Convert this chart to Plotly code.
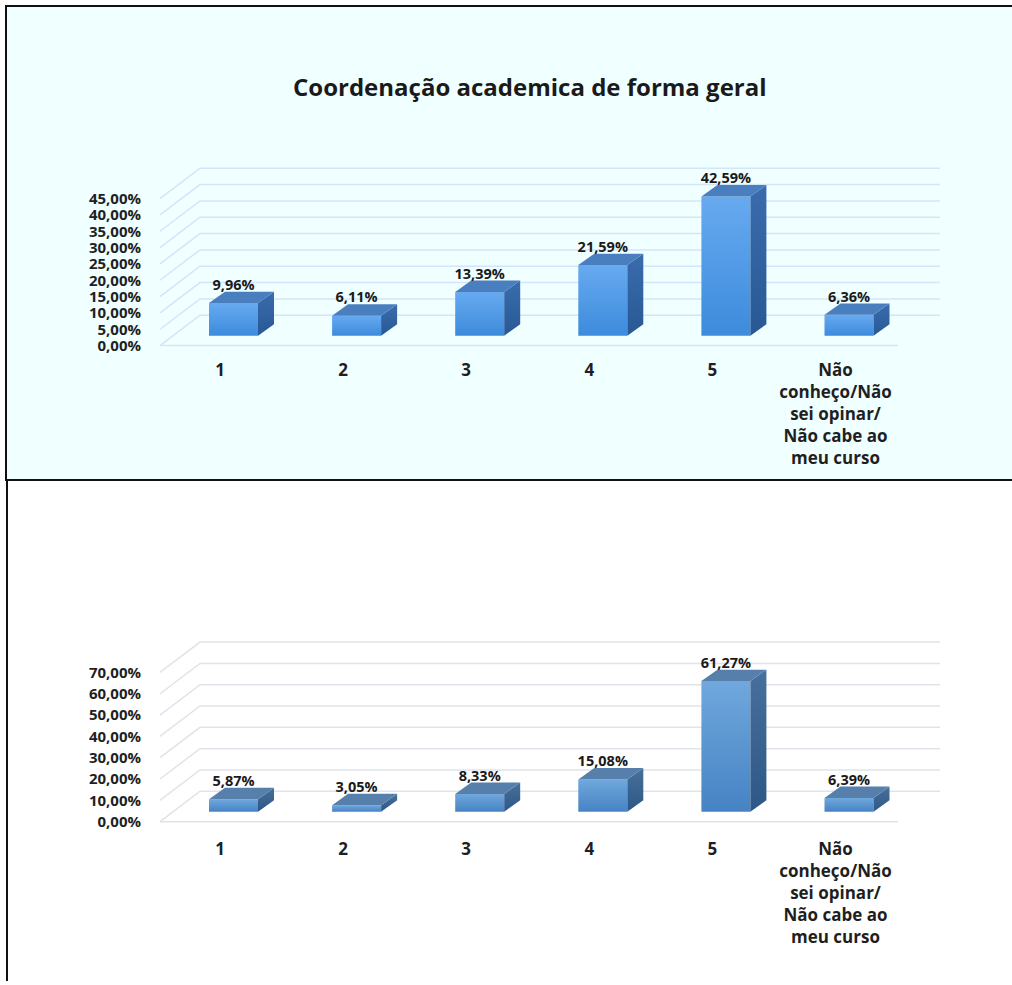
import plotly.graph_objects as go

W, H = 1012, 985

# ---- data -------------------------------------------------------------
categories = ["1", "2", "3", "4", "5",
              "Não<br>conheço/Não<br>sei opinar/<br>Não cabe ao<br>meu curso"]
geral_values = [9.96, 6.11, 13.39, 21.59, 42.59, 6.36]
segundo_values = [5.87, 3.05, 8.33, 15.08, 61.27, 6.39]
geral_ticks = [0, 5, 10, 15, 20, 25, 30, 35, 40, 45]
segundo_ticks = [0, 10, 20, 30, 40, 50, 60, 70]
title_text = "Coordenação academica de forma geral"


def pct_label(v):
    return f"{v:.2f}".replace(".", ",") + "%"


# ---- 3D geometry (pixel sizes) ----------------------------------------
CAT_PX = 123.1          # pixels between category centres
FIRST_CENTER = 233.5    # pixel x of the first column centre
X_DOMAIN_LEFT = 150
WALL_FRONT_X = 160      # front-left corner of the floor
WALL_DX, WALL_DY = 40, 30.5
WALL_RIGHT_X = 940
FLOOR_RIGHT_X = 898
BAR_W = 49
BAR_DX, BAR_DY = 16, 11.5
BAR_LIFT = 10
LABEL_GAP = 5.5
CAT_LABEL_SHIFT = -13.5

FONT = "Open Sans"


def xdata(px):
    return (px - FIRST_CENTER) / CAT_PX


def add_panel(fig, values, ticks, xa, ya, scale, front_cs, side_cs, top_col,
              grid_col):
    ux = 1.0 / CAT_PX
    uy = 1.0 / scale
    # back wall + side wall grid lines
    gx, gy = [], []
    for t in ticks:
        gx += [xdata(WALL_FRONT_X), xdata(WALL_FRONT_X + WALL_DX),
               xdata(WALL_RIGHT_X), None]
        gy += [t, t + WALL_DY * uy, t + WALL_DY * uy, None]
    gx += [xdata(WALL_FRONT_X), xdata(FLOOR_RIGHT_X), None]
    gy += [0, 0, None]
    fig.add_trace(go.Scatter(x=gx, y=gy, mode="lines", xaxis=xa, yaxis=ya,
                             line=dict(color=grid_col, width=1.5),
                             hoverinfo="skip", showlegend=False))
    lx, ly, lt = [], [], []
    for i, v in enumerate(values):
        base = BAR_LIFT * uy
        top = base + v
        xl, xr = i - BAR_W / 2 * ux, i + BAR_W / 2 * ux
        dx, dy = BAR_DX * ux, BAR_DY * uy
        # front face
        fig.add_trace(go.Scatter(
            x=[xl, xr, xr, xl, xl], y=[base, base, top, top, base],
            mode="lines", fill="toself", xaxis=xa, yaxis=ya,
            line=dict(width=0, color="rgba(0,0,0,0)"),
            fillgradient=dict(type="vertical", colorscale=front_cs),
            hoverinfo="skip", showlegend=False))
        # side face
        fig.add_trace(go.Scatter(
            x=[xr, xr + dx, xr + dx, xr, xr],
            y=[base, base + dy, top + dy, top, base],
            mode="lines", fill="toself", xaxis=xa, yaxis=ya,
            line=dict(width=0, color="rgba(0,0,0,0)"),
            fillgradient=dict(type="vertical", colorscale=side_cs),
            hoverinfo="skip", showlegend=False))
        # top face
        fig.add_trace(go.Scatter(
            x=[xl, xr, xr + dx, xl + dx, xl],
            y=[top, top, top + dy, top + dy, top],
            mode="lines", fill="toself", fillcolor=top_col, xaxis=xa,
            yaxis=ya, line=dict(width=0, color="rgba(0,0,0,0)"),
            hoverinfo="skip", showlegend=False))
        lx.append(i)
        ly.append(top + dy + LABEL_GAP * uy)
        lt.append(pct_label(v))
    fig.add_trace(go.Scatter(
        x=lx, y=ly, text=lt, mode="text", textposition="middle center",
        xaxis=xa, yaxis=ya, cliponaxis=False,
        textfont=dict(family=FONT, size=14.5, color="#1a1a1a", weight="bold"),
        hoverinfo="skip", showlegend=False))


fig = go.Figure()

# panel geometry: front floor line, pixels per percent, plot-area edges
TOP_FLOOR, TOP_SCALE, TOP_DOM_BOT, TOP_DOM_TOP = 347, 3.28, 352, 150
BOT_FLOOR, BOT_SCALE, BOT_DOM_BOT, BOT_DOM_TOP = 825, 2.14, 830, 620

add_panel(fig, geral_values, geral_ticks, "x", "y", TOP_SCALE,
          [[0, "#3d8bdc"], [1, "#67aaf0"]],
          [[0, "#285994"], [1, "#3a6cae"]],
          "#4a7fbf", "#d3e5f8")
add_panel(fig, segundo_values, segundo_ticks, "x2", "y2", BOT_SCALE,
          [[0, "#4683c4"], [1, "#70a8dd"]],
          [[0, "#2d5785"], [1, "#48709c"]],
          "#5680ab", "#dfe3ea")

xrange_ = [xdata(X_DOMAIN_LEFT), xdata(W)]
tickpos = [i + CAT_LABEL_SHIFT / CAT_PX for i in range(len(categories))]
y_tick_font = dict(family=FONT, size=15, color="#1f1f1f", weight="bold")
x_tick_font = dict(family=FONT, size=17, color="#1f1f1f", weight="bold")

common_x = dict(range=xrange_, domain=[X_DOMAIN_LEFT / W, 1],
                showgrid=False, zeroline=False, showline=False,
                tickmode="array", tickvals=tickpos, ticktext=categories,
                ticks="", tickfont=x_tick_font, fixedrange=True)
fig.update_layout(
    width=W, height=H,
    margin=dict(l=0, r=0, t=0, b=0),
    paper_bgcolor="white", plot_bgcolor="rgba(0,0,0,0)",
    showlegend=False,
    xaxis=dict(anchor="y", ticklabelstandoff=7, **common_x),
    xaxis2=dict(anchor="y2", ticklabelstandoff=10, **common_x),
    yaxis=dict(anchor="x",
               domain=[(H - TOP_DOM_BOT) / H, (H - TOP_DOM_TOP) / H],
               range=[-(TOP_DOM_BOT - TOP_FLOOR) / TOP_SCALE,
                      (TOP_FLOOR - TOP_DOM_TOP) / TOP_SCALE],
               tickmode="array", tickvals=geral_ticks,
               ticktext=[pct_label(t) for t in geral_ticks],
               showgrid=False, zeroline=False, showline=False, ticks="",
               tickfont=y_tick_font, ticklabelstandoff=8, fixedrange=True),
    yaxis2=dict(anchor="x2",
                domain=[(H - BOT_DOM_BOT) / H, (H - BOT_DOM_TOP) / H],
                range=[-(BOT_DOM_BOT - BOT_FLOOR) / BOT_SCALE,
                       (BOT_FLOOR - BOT_DOM_TOP) / BOT_SCALE],
                tickmode="array", tickvals=segundo_ticks,
                ticktext=[pct_label(t) for t in segundo_ticks],
                showgrid=False, zeroline=False, showline=False, ticks="",
                tickfont=y_tick_font, ticklabelstandoff=8, fixedrange=True),
    shapes=[
        dict(type="rect", xref="paper", yref="paper", layer="below",
             x0=6 / W, x1=1.01, y0=(H - 482) / H, y1=(H - 6) / H,
             fillcolor="#f0ffff", line=dict(color="#111111", width=2)),
        dict(type="line", xref="paper", yref="paper", layer="below",
             x0=7 / W, x1=7 / W, y0=0, y1=(H - 482) / H,
             line=dict(color="#111111", width=2)),
    ],
    annotations=[
        dict(text=title_text, xref="paper", yref="paper",
             x=530 / W, y=(H - 87) / H, showarrow=False,
             xanchor="center", yanchor="middle",
             font=dict(family=FONT, size=24, color="#1a1a1a", weight="bold")),
    ],
)

fig.write_html("out.html")
